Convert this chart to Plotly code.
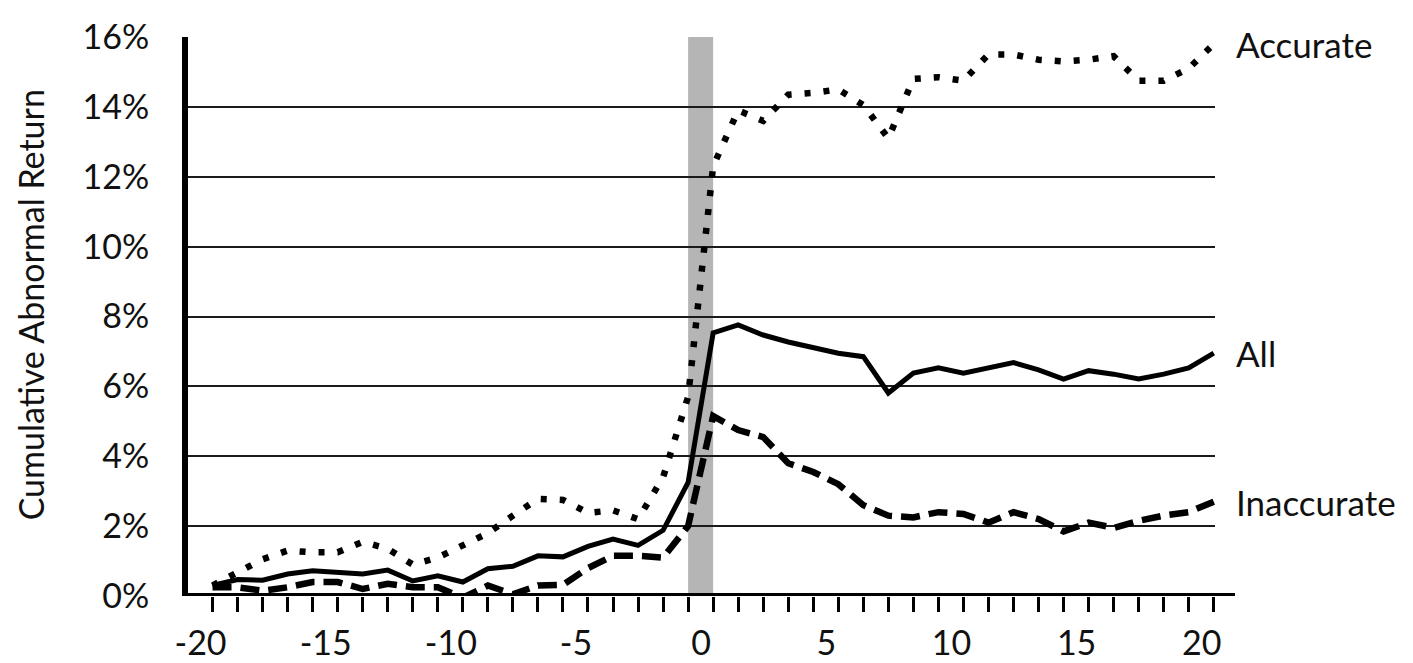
import plotly.graph_objects as go

days = list(range(-20, 21))

accurate = [0.3, 0.7, 1.05, 1.3, 1.25, 1.25, 1.55, 1.35, 0.9, 1.1,
            1.45, 1.8, 2.3, 2.78, 2.75, 2.38, 2.45, 2.2, 3.4, 5.7,
            12.3, 13.9, 13.6, 14.35, 14.4, 14.5, 14.05, 13.1, 14.8, 14.85,
            14.75, 15.5, 15.5, 15.35, 15.3, 15.35, 15.45, 14.75, 14.75, 15.1,
            15.8]

all_firms = [0.3, 0.47, 0.45, 0.63, 0.72, 0.67, 0.63, 0.74, 0.43, 0.58,
             0.4, 0.78, 0.85, 1.15, 1.12, 1.42, 1.63, 1.45, 1.88, 3.25,
             7.53, 7.76, 7.47, 7.27, 7.1, 6.95, 6.85, 5.81, 6.38, 6.53,
             6.38, 6.53, 6.68, 6.47, 6.21, 6.45, 6.35, 6.21, 6.35, 6.53,
             6.95]

inaccurate = [0.25, 0.25, 0.15, 0.25, 0.4, 0.4, 0.2, 0.35, 0.25, 0.25,
              -0.05, 0.3, 0.05, 0.3, 0.32, 0.8, 1.15, 1.15, 1.1, 2.0,
              5.15, 4.75, 4.55, 3.8, 3.55, 3.2, 2.6, 2.3, 2.25, 2.4,
              2.35, 2.1, 2.4, 2.2, 1.85, 2.1, 1.95, 2.15, 2.3, 2.4,
              2.7]

series_names = ["Accurate", "All", "Inaccurate"]
y_tickvals = [0, 2, 4, 6, 8, 10, 12, 14, 16]
y_ticktext = ["0%", "2%", "4%", "6%", "8%", "10%", "12%", "14%", "16%"]
x_ticktext = [str(d) if d % 5 == 0 else "" for d in days]
event_window = [-1, 0]

FONT = "Lato"
TXT = "#111111"

fig = go.Figure()

fig.add_trace(go.Scatter(x=days, y=accurate, mode="lines", name="Accurate",
                         line=dict(color="black", width=6.5, dash="6px,13px")))
fig.add_trace(go.Scatter(x=days, y=inaccurate, mode="lines", name="Inaccurate",
                         line=dict(color="black", width=6.5, dash="19px,9px")))
fig.add_trace(go.Scatter(x=days, y=all_firms, mode="lines", name="All",
                         line=dict(color="black", width=5)))

# event window band
fig.add_shape(type="rect", xref="x", yref="y",
              x0=event_window[0], x1=event_window[1], y0=0, y1=16,
              fillcolor="#b5b5b5", line=dict(width=0), layer="below")

# extended x-axis baseline
fig.add_shape(type="line", xref="paper", yref="y", x0=-0.003, x1=1.0195, y0=0, y1=0,
              line=dict(color="black", width=6), layer="above")

# right-side labels
finals = [accurate[-1], all_firms[-1], inaccurate[-1]]
for name, val in zip(series_names, finals):
    fig.add_annotation(x=days[-1], y=val, xref="x", yref="y", text=name,
                       showarrow=False, xanchor="left", yanchor="middle",
                       xshift=20, font=dict(family=FONT, size=35, color=TXT))

# y-axis title
fig.add_annotation(x=-0.1538, y=0.52, xref="paper", yref="paper",
                   text="Cumulative Abnormal Return", textangle=-90,
                   showarrow=False, xanchor="center", yanchor="middle",
                   font=dict(family=FONT, size=34, color=TXT))

fig.update_layout(
    width=1405, height=655,
    margin=dict(l=180, r=198, t=29, b=67, autoexpand=False),
    plot_bgcolor="white", paper_bgcolor="white",
    showlegend=False,
    font=dict(family=FONT, size=34, color=TXT),
)

fig.update_xaxes(range=[-20.98, 20.05], tickvals=days, ticktext=x_ticktext,
                 ticks="outside", ticklen=15, tickwidth=3, tickcolor="black",
                 showgrid=False, zeroline=False, showline=False,
                 ticklabelshift=-12, ticklabelstandoff=2, automargin=False,
                 tickfont=dict(family=FONT, size=34, color=TXT))

fig.update_yaxes(range=[0, 16], tickvals=y_tickvals, ticktext=y_ticktext,
                 showgrid=True, gridcolor="#1a1a1a", gridwidth=1.5,
                 zeroline=False, showline=True, linecolor="black", linewidth=6,
                 ticks="", ticklabelstandoff=26, automargin=False,
                 tickfont=dict(family=FONT, size=34, color=TXT))

fig.write_html("out.html")
